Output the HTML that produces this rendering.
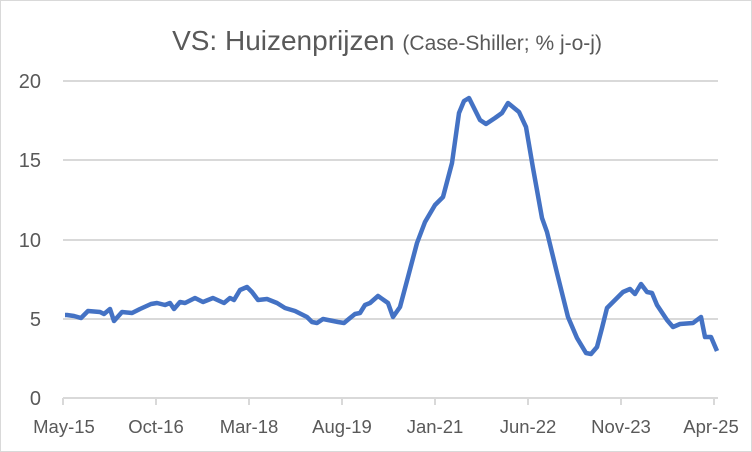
<!DOCTYPE html>
<html><head><meta charset="utf-8"><style>
body{margin:0;background:#fff}
svg{display:block;font-family:"Liberation Sans",Calibri,sans-serif}
</style></head><body>
<svg width="752" height="452" viewBox="0 0 752 452">
<rect x="0.5" y="0.5" width="751" height="451" fill="#fff" stroke="#d9d9d9"/>
<text x="387" y="50" text-anchor="middle" fill="#595959"><tspan font-size="28">VS: Huizenprijzen </tspan><tspan font-size="21">(Case-Shiller; % j-o-j)</tspan></text>
<g stroke="#d9d9d9" stroke-width="2">
<line x1="63" x2="718" y1="81" y2="81"/><line x1="63" x2="718" y1="160" y2="160"/>
<line x1="63" x2="718" y1="240" y2="240"/><line x1="63" x2="718" y1="319" y2="319"/>
<line x1="63" x2="718" y1="398" y2="398"/>
<line x1="63" x2="63" y1="398" y2="405"/><line x1="156" x2="156" y1="398" y2="405"/>
<line x1="249" x2="249" y1="398" y2="405"/><line x1="342" x2="342" y1="398" y2="405"/>
<line x1="435" x2="435" y1="398" y2="405"/><line x1="528" x2="528" y1="398" y2="405"/>
<line x1="621" x2="621" y1="398" y2="405"/><line x1="714" x2="714" y1="398" y2="405"/>
</g>
<g fill="#595959" font-size="20" text-anchor="end">
<text x="41" y="88">20</text><text x="41" y="167">15</text><text x="41" y="247">10</text>
<text x="41" y="326">5</text><text x="41" y="405">0</text>
</g>
<g fill="#595959" font-size="18.5" text-anchor="middle">
<text x="64" y="433">May-15</text><text x="156" y="433">Oct-16</text><text x="249" y="433">Mar-18</text>
<text x="342" y="433">Aug-19</text><text x="435" y="433">Jan-21</text><text x="528" y="433">Jun-22</text>
<text x="621" y="433">Nov-23</text><text x="711" y="433">Apr-25</text>
</g>
<polyline fill="none" stroke="#4472c4" stroke-width="4.5" stroke-linejoin="round" points="65,315 67,315 74,316 81,318 88,311 100,312 104,314 110,309 114,321 122,312 132,313 140,309 151,304 157,303 165,305 170,303 174,309 180,302 185,303 195,298 203,302 213,298 224,303 230,298 234,300 240,290 247,287 252,292 258,300 267,299 277,303 285,308 295,311 307,317 312,322 317,323 323,319 333,321 338,322 344,323 350,318 355,314 360,313 365,305 370,303 378,296 388,303 393,317 400,307 408,277 417,243 425,222 435,205 443,197 452,163 459,113 464,101 469,98 480,120 486,124 495,118 502,113 508,103 519,112 526,127 533,168 542,218 547,232 557,273 568,317 577,338 586,353 591,354 597,347 602,328 607,308 615,300 623,292 630,289 635,294 641,284 647,292 652,293 657,305 667,320 673,327 680,324 693,323 701,317 705,337 711,337 717,351"/>
</svg>
</body></html>
